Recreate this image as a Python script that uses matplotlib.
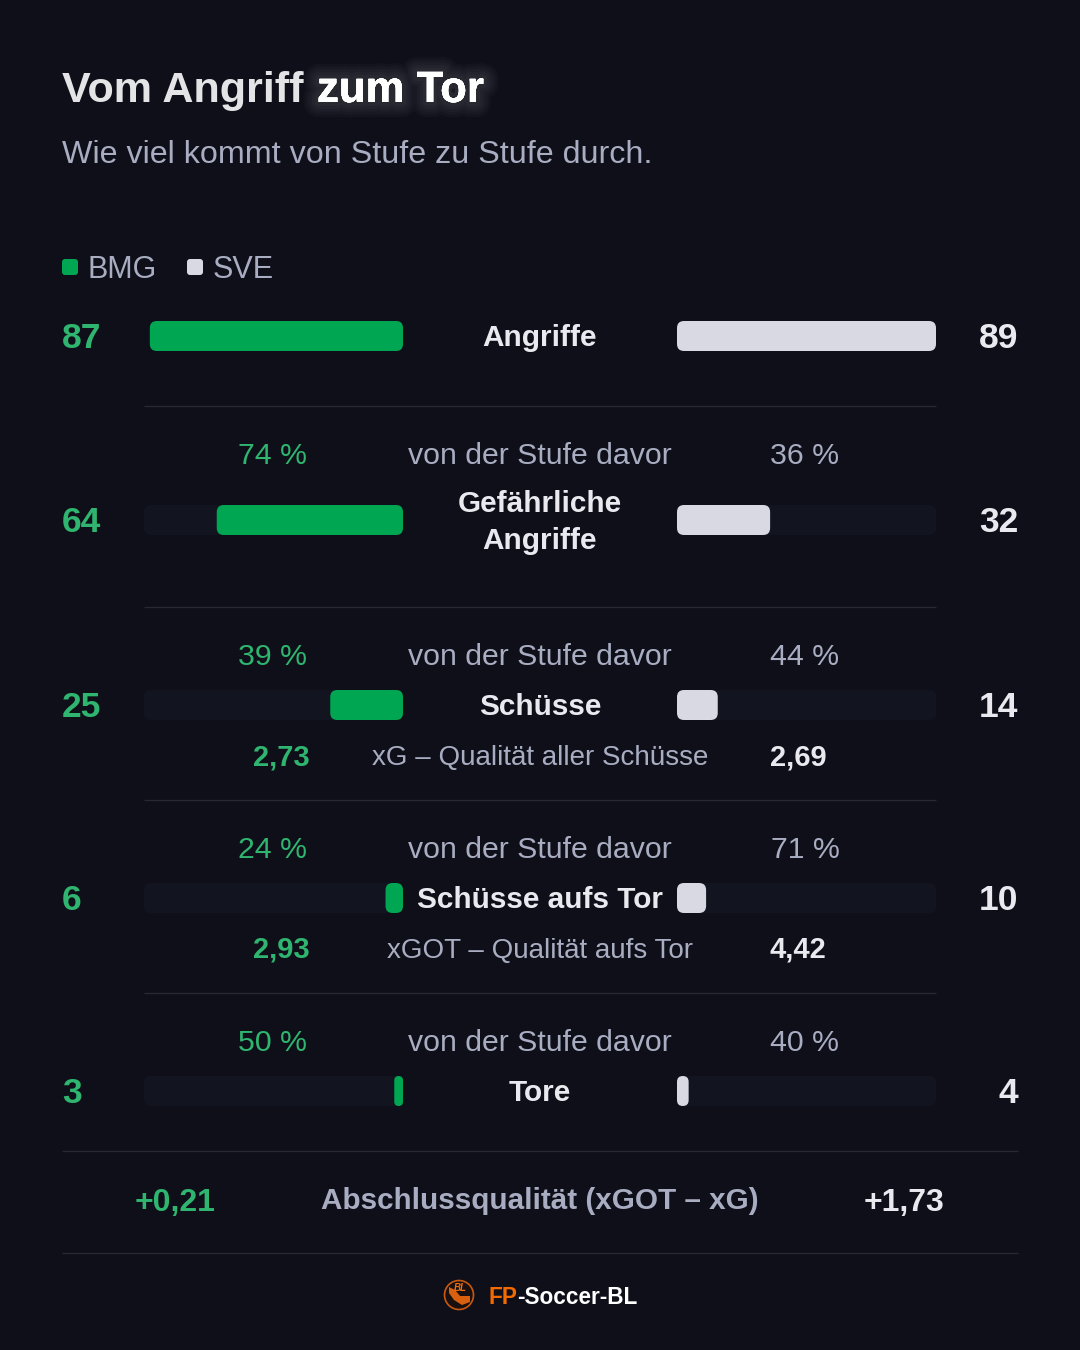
import matplotlib
matplotlib.use('Agg')
import matplotlib.pyplot as plt
import matplotlib.patheffects as pe
from matplotlib.patches import FancyBboxPatch, Circle, Polygon

BG = '#0e0f18'
TRACK = '#12151f'
GREEN = '#00a651'
GREEN_TXT = '#2fb56f'
LIGHT = '#d8d9e3'
WHITE = '#e9e9ef'
GREY = '#a9adc2'
LINE = '#262833'
ORANGE = '#f26a00'

stages = ['Angriffe', 'Gefährliche\nAngriffe', 'Schüsse', 'Schüsse aufs Tor', 'Tore']
bmg = [87, 64, 25, 6, 3]
sve = [89, 32, 14, 10, 4]
bmg_pct = [None, '74 %', '39 %', '24 %', '50 %']
sve_pct = [None, '36 %', '44 %', '71 %', '40 %']
xg_labels = [None, None, 'xG – Qualität aller Schüsse', 'xGOT – Qualität aufs Tor', None]
bmg_xg = [None, None, '2,73', '2,93', None]
sve_xg = [None, None, '2,69', '4,42', None]
row_y = [336, 520, 705, 898, 1091]
pct_y = [None, 464, 665, 858, 1051]
sep_y = [406, 607, 800, 993]
scale = 259 / 89

plt.rcParams['font.family'] = ['Liberation Sans', 'DejaVu Sans']


def rounded(ax, x0, x1, y, h, color, radius=7):
    r = min(radius, (x1 - x0) / 2)
    ax.add_patch(FancyBboxPatch((x0 + r, y - h / 2 + r), x1 - x0 - 2 * r, h - 2 * r,
                                boxstyle='round,pad=%f,rounding_size=%f' % (r, r),
                                fc=color, ec='none', zorder=3))


def text_right(t):
    # right edge of a text in data coordinates
    fig.canvas.draw()
    return ax.transData.inverted().transform(t.get_window_extent().get_points())[1][0]


fig = plt.figure(figsize=(10.8, 13.5), dpi=100, facecolor=BG)
ax = fig.add_axes([0, 0, 1, 1])
ax.set_xlim(0, 1080)
ax.set_ylim(1350, 0)
ax.axis('off')

ax.text(62, 102, 'Vom Angriff', fontsize=31.1, fontweight='bold', color='#e4e4e6')
t2 = ax.text(317, 102, 'zum Tor', fontsize=31.5, fontweight='bold', color='white', zorder=5)
# glow behind the second half of the title
t2.set_path_effects([pe.withStroke(linewidth=w, foreground='white', alpha=0.025) for w in (22, 18, 14, 10, 6)]
                    + [pe.Normal()])
ax.text(62, 163, 'Wie viel kommt von Stufe zu Stufe durch.', fontsize=23.2, color=GREY)

rounded(ax, 62, 78, 267, 16, GREEN, 3)
ax.text(88, 278, 'BMG', fontsize=22, color=GREY)
rounded(ax, 187, 203, 267, 16, LIGHT, 3)
ax.text(213, 278, 'SVE', fontsize=22, color=GREY)

for y in sep_y:
    ax.plot([144, 936], [y, y], color=LINE, lw=1, solid_capstyle='butt')

for i, stage in enumerate(stages):
    y = row_y[i]
    if i > 0:
        rounded(ax, 144, 403, y, 30, TRACK)
        rounded(ax, 677, 936, y, 30, TRACK)
        ax.text(273, pct_y[i], bmg_pct[i], fontsize=21.8, color=GREEN_TXT, ha='center')
        ax.text(540, pct_y[i], 'von der Stufe davor', fontsize=21.8, color=GREY, ha='center')
        ax.text(805, pct_y[i], sve_pct[i], fontsize=21.8, color=GREY, ha='center')
    rounded(ax, 403 - bmg[i] * scale, 403, y, 30, GREEN)
    rounded(ax, 677, 677 + sve[i] * scale, y, 30, LIGHT)
    ax.text(62, y + 12, str(bmg[i]), fontsize=25.5, fontweight='bold', color=GREEN_TXT)
    ax.text(1018, y + 12, str(sve[i]), fontsize=25.5, fontweight='bold', color=WHITE, ha='right')
    lines = stage.split('\n')
    for k, line in enumerate(lines):
        base = y + 10 - 18 * (len(lines) - 1) + 37 * k
        ax.text(540, base, line, fontsize=21.4, fontweight='bold', color=WHITE, ha='center')
    if xg_labels[i]:
        ax.text(310, y + 60, bmg_xg[i], fontsize=21, fontweight='bold', color=GREEN_TXT, ha='right')
        ax.text(540, y + 60, xg_labels[i], fontsize=20, color=GREY, ha='center')
        ax.text(770, y + 60, sve_xg[i], fontsize=21, fontweight='bold', color=WHITE)

ax.plot([62, 1018], [1151, 1151], color=LINE, lw=1, solid_capstyle='butt')
ax.plot([62, 1018], [1253, 1253], color=LINE, lw=1, solid_capstyle='butt')
ax.text(175, 1211, '+0,21', fontsize=23, fontweight='bold', color=GREEN_TXT, ha='center')
ax.text(540, 1209, 'Abschlussqualität (xGOT – xG)', fontsize=21.3, fontweight='bold', color=GREY, ha='center')
ax.text(904, 1211, '+1,73', fontsize=23, fontweight='bold', color=WHITE, ha='center')

# small logo: ring, rough emblem and BL lettering
ax.add_patch(Circle((459, 1295), 14.5, fc='#1a1010', ec='#c9590f', lw=1.2))
ax.add_patch(Polygon([(449, 1287), (455, 1290), (460, 1296), (470, 1296), (470, 1302), (462, 1305),
                      (454, 1300), (449, 1293)], fc='#d9600f', ec='none'))
ax.text(460, 1291, 'BL', fontsize=7, fontweight='bold', style='italic', color='#f07010', ha='center')
t3 = ax.text(488, 1304, 'FP', fontsize=16.3, fontweight='bold', color=ORANGE)
ax.text(text_right(t3), 1304, '-Soccer-BL', fontsize=16.3, fontweight='bold', color='white')

fig.savefig('out.png', dpi=100, facecolor=BG)
